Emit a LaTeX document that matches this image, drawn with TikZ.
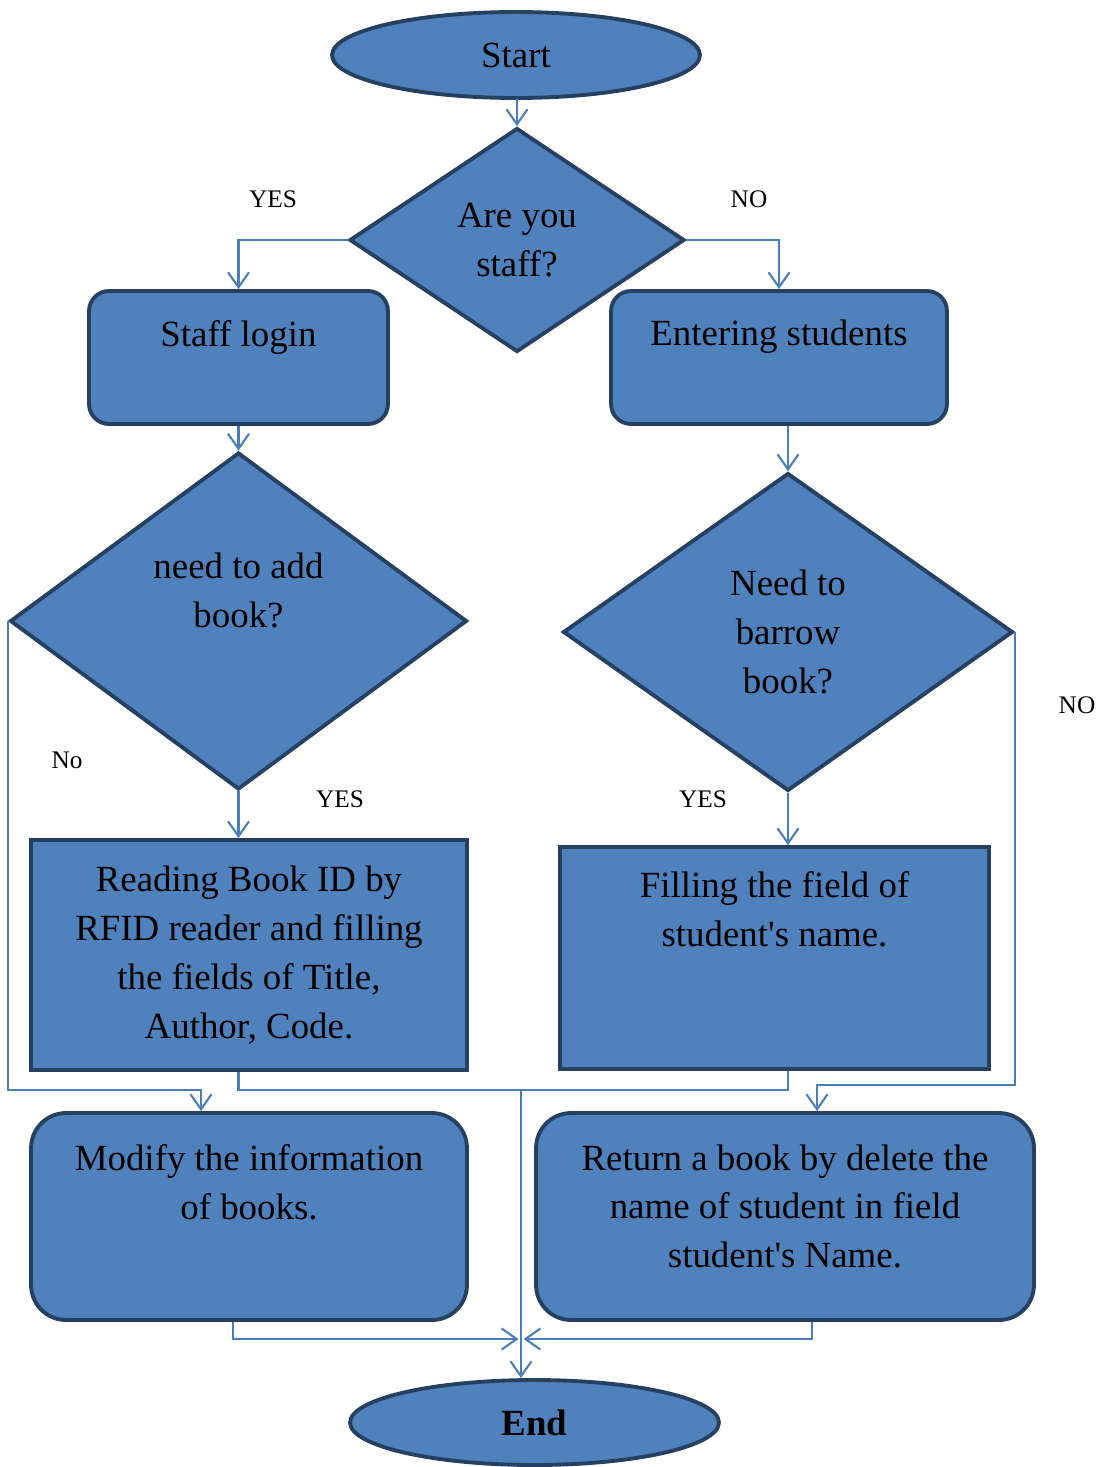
\documentclass[tikz,border=0pt]{standalone}
\usepackage{fontspec}
\setmainfont{Liberation Serif}
\usepackage{tikz}
\usetikzlibrary{shapes.geometric,arrows.meta}
\definecolor{boxfill}{HTML}{4F81BD}
\definecolor{boxline}{HTML}{254061}
\definecolor{flowline}{HTML}{4A7EBB}
\tikzset{
  base/.style={draw=boxline,fill=boxfill,line width=2.2pt,align=center,inner sep=0pt,
    font=\fontsize{21}{27.8}\selectfont},
  term/.style={base,ellipse,minimum width=7.36cm,minimum height=1.72cm},
  decide/.style={base,diamond},
  proc/.style={base,rectangle},
  flow/.style={draw=flowline,line width=1.2pt,-{Straight Barb[length=0.3cm,width=0.42cm]}},
  link/.style={draw=flowline,line width=1.2pt},
  tag/.style={font=\fontsize{14.4}{17}\selectfont}
}
\begin{document}
\begin{tikzpicture}[x=0.02cm,y=-0.02cm]
\useasboundingbox (0,0) rectangle (1104,1467);
\node[term] (start) at (516,55) {Start};
\node[decide,minimum width=6.7cm,minimum height=4.48cm] (q1) at (517,240) {Are you\\staff?};
\node[proc,rounded corners=0.4cm,minimum width=5.98cm,minimum height=2.66cm] (staff) at (238.5,357.5) {Staff login\\\mbox{}};
\node[proc,rounded corners=0.4cm,minimum width=6.72cm,minimum height=2.66cm] (enter) at (779,357.5) {Entering students\\\mbox{}};
\node[decide,minimum width=9.14cm,minimum height=6.74cm] (q2) at (238.5,621) {need to add\\book?\\[0.24cm]\mbox{}};
\node[decide,minimum width=9cm,minimum height=6.36cm] (q3) at (788,632) {Need to\\barrow\\book?};
\node[proc,minimum width=8.72cm,minimum height=4.6cm] (read) at (249,955) {Reading Book ID by\\RFID reader and filling\\the fields of Title,\\Author, Code.};
\node[proc,minimum width=8.58cm,minimum height=4.44cm] (fill) at (774.5,958) {Filling the field of\\student\textquotesingle s name.\\\mbox{}\\\mbox{}};
\node[proc,rounded corners=0.7cm,minimum width=8.72cm,minimum height=4.14cm] (modify) at (249,1216.5) {Modify the information\\of books.\\[0.4cm]\mbox{}};
\node[proc,rounded corners=0.7cm,minimum width=9.96cm,minimum height=4.14cm] (return) at (785,1216.5) {Return a book by delete the\\name of student in field\\student\textquotesingle s Name.\\[-0.56cm]\mbox{}};
\node[term,minimum width=7.38cm,minimum height=1.7cm] (stop) at (534.5,1422.5) {\bfseries End};
\coordinate (noL) at (201,1090);
\coordinate (noR) at (817,1085);
\coordinate (mid) at (521,1090);
\coordinate (join) at (521,1339);
\node[tag] (yes1) at (273,199) {YES};
\node[tag] (no1) at (749,199) {NO};
\node[tag] (no2) at (67,760) {No};
\node[tag] (yes2) at (340,799) {YES};
\node[tag] (yes3) at (703,799) {YES};
\node[tag] (no3) at (1077,705) {NO};
\foreach \from/\to in {start.south/q1.north,q1.west/staff.north,q1.east/enter.north,staff.south/q2.north}
\draw[flow] (\from) -| (\to);
\draw[flow] (enter.south -| q3.north) -- (q3.north);
\draw[flow] (q2.south) -- (q2.south |- read.north);
\draw[flow] (q3.south) -- (q3.south |- fill.north);
\draw[flow] (q2.west) |- (noL) -- (noL |- modify.north);
\draw[flow] (q3.east) |- (noR) -- (noR |- return.north);
\draw[link] (read.south -| q2.south) |- (mid) -| (fill.south -| q3.south);
\draw[flow] (mid) -- (mid |- stop.north);
\draw[flow] ([xshift=-0.32cm]modify.south) |- ([xshift=-0.05cm]join);
\draw[flow] ([xshift=0.54cm]return.south) |- ([xshift=0.05cm]join);
\end{tikzpicture}
\end{document}
